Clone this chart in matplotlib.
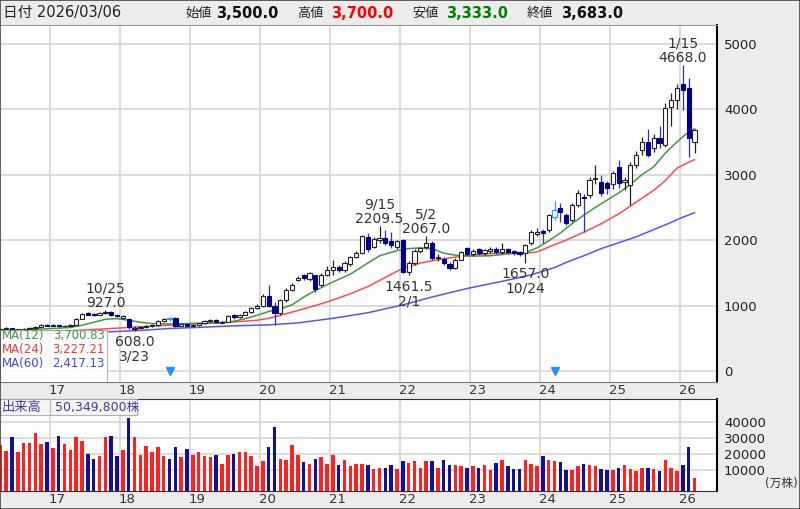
import numpy as np
import matplotlib.pyplot as plt
from matplotlib.patches import Rectangle

plt.rcParams['font.family'] = ['DejaVu Sans', 'Noto Sans CJK JP']

# monthly candles, month index 0 = 2016-01, first bar = 2016-04
first_month = 3
opens = [625, 640, 655, 625, 635, 645, 655, 675, 700,
         690, 700, 685, 695, 705, 800, 880, 875, 860, 885, 905, 860,
         815, 800, 640, 660, 670, 685, 700, 765, 810, 805, 690, 712,
         690, 705, 730, 760, 785, 740, 750, 850, 820, 860, 900, 960,
         990, 1150, 1000, 890, 1085, 1240, 1390, 1460, 1400, 1460, 1310, 1470,
         1550, 1590, 1540, 1630, 1740, 1800, 2050, 1900, 2005, 2030, 1990, 1890,
         2000, 1520, 1650, 1830, 1900, 1960, 1720, 1710, 1640, 1575, 1700, 1880,
         1790, 1860, 1800, 1840, 1870, 1815, 1860, 1835, 1815, 1800, 1950, 2100,
         2145, 2150, 2350, 2490, 2380, 2310, 2540, 2665, 2690, 2940, 2880, 2870,
         2850, 3120, 2880, 2840, 3150, 3380, 3500, 3400, 3560, 3450, 4030, 4140,
         4380, 4330, 3500]
closes = [640, 655, 628, 635, 645, 655, 675, 700, 690,
          700, 685, 695, 705, 795, 870, 862, 858, 885, 905, 850, 840,
          835, 665, 660, 670, 685, 700, 765, 800, 790, 695, 712, 690,
          705, 730, 765, 785, 745, 752, 840, 822, 860, 900, 960, 1000,
          1140, 1000, 880, 1085, 1240, 1320, 1420, 1420, 1490, 1250, 1470, 1550,
          1590, 1545, 1650, 1740, 1800, 2060, 1860, 2020, 2030, 1960, 1920, 1980,
          1520, 1650, 1840, 1880, 1960, 1730, 1740, 1650, 1575, 1700, 1820, 1790,
          1840, 1800, 1850, 1860, 1820, 1870, 1820, 1800, 1790, 1920, 2120, 2130,
          2110, 2380, 2460, 2430, 2260, 2540, 2720, 2640, 2920, 2955, 2720, 2800,
          3025, 2870, 2920, 3150, 3300, 3500, 3300, 3560, 3480, 4020, 4140, 4320,
          4300, 3560, 3683]
highs = [650, 665, 660, 645, 652, 665, 690, 712, 715,
         712, 708, 702, 715, 815, 885, 895, 890, 900, 927, 915, 875,
         860, 810, 690, 690, 700, 715, 780, 815, 830, 820, 725, 720,
         715, 740, 780, 800, 795, 765, 860, 870, 870, 915, 975, 1020,
         1170, 1310, 1050, 1100, 1270, 1340, 1450, 1480, 1520, 1470, 1490, 1600,
         1700, 1620, 1680, 1760, 1830, 2080, 2110, 2050, 2209.5, 2150, 2130, 2000,
         2020, 1680, 1860, 1900, 2067, 1985, 1780, 1740, 1660, 1720, 1840, 1900,
         1860, 1880, 1870, 1890, 1890, 1960, 1880, 1850, 1830, 1940, 2150, 2190,
         2170, 2400, 2600, 2560, 2420, 2560, 2760, 2700, 2960, 3150, 2990, 2900,
         3060, 3220, 2960, 3200, 3360, 3580, 3700, 3620, 3740, 4100, 4250, 4390,
         4668, 4480, 3700]
lows = [618, 632, 615, 620, 628, 638, 648, 668, 680,
        680, 678, 680, 690, 700, 790, 850, 845, 852, 875, 840, 825,
        800, 640, 608, 650, 660, 675, 690, 755, 770, 670, 680, 675,
        680, 695, 720, 745, 730, 730, 745, 800, 810, 850, 890, 950,
        980, 980, 700, 860, 1060, 1220, 1370, 1390, 1380, 1210, 1300, 1450,
        1470, 1520, 1520, 1610, 1720, 1780, 1820, 1880, 1950, 1930, 1880, 1870,
        1490, 1461.5, 1620, 1800, 1860, 1690, 1680, 1620, 1550, 1565, 1690, 1760,
        1760, 1770, 1770, 1800, 1780, 1790, 1790, 1770, 1750, 1657, 1930, 2070,
        1950, 2130, 2300, 2270, 2230, 2280, 2500, 2120, 2650, 2850, 2680, 2700,
        2780, 2800, 2760, 2540, 3100, 3300, 3270, 3350, 3400, 3420, 3750, 4000,
        3990, 3270, 3333]
# volume in 万株
volume = [25600, 21900, 30600, 21000, 26700, 26700, 32900, 26000, 27300,
          23500, 31500, 26000, 22500, 30600, 28300, 20200, 17100, 18700, 30600, 31500, 18700,
          22700, 42300, 30600, 19600, 25000, 21200, 24200, 18700, 17100, 24200, 17900, 23300,
          19600, 21000, 18700, 17900, 19400, 14000, 19600, 20200, 21000, 21000, 18700, 12300,
          15600, 24200, 36900, 17100, 16200, 25800, 19400, 14800, 14000, 17100, 17900, 14000,
          19600, 13100, 16200, 12300, 14000, 14000, 13100, 10800, 11500, 11500, 13100, 10800,
          15600, 14600, 15400, 11500, 15400, 15400, 11500, 16200, 13100, 13100, 12300, 11500,
          12300, 11500, 13100, 9800, 14600, 16200, 12300, 10600, 10600, 16200, 14000, 12300,
          18700, 16200, 15400, 14800, 9800, 9800, 12300, 14000, 13100, 12300, 10600, 9800,
          9800, 11500, 13300, 10600, 9200, 11500, 11500, 10600, 9200, 16200, 11500, 9200,
          13100, 24200, 5034.98]
split_months = [32, 98]

# moving averages (month index, value)
ma12_x = [3, 8, 12, 15, 17, 19, 21, 23, 25, 27, 29, 32, 35, 38, 41, 43, 45, 47, 49, 51, 53,
          55, 57, 60, 63, 66, 68, 71, 73, 75, 77, 79, 81, 84, 87, 90, 93, 95, 97, 99, 101,
          103, 105, 107, 109, 111, 113, 115, 117, 119, 120, 121, 122]
ma12_y = [625, 632, 650, 665, 700, 745, 790, 800, 775, 745, 725, 718, 725, 732, 738, 760, 800,
          850, 910, 950, 1010, 1130, 1230, 1360, 1480, 1650, 1760, 1840, 1870, 1880, 1870, 1800,
          1770, 1755, 1760, 1790, 1810, 1880, 1990, 2110, 2250, 2380, 2500, 2610, 2720, 2850,
          3000, 3120, 3330, 3500, 3580, 3650, 3700.83]
ma24_x = [3, 10, 16, 22, 26, 30, 34, 38, 43, 47, 49, 51, 54, 57, 60, 63, 66, 69, 72, 75, 78,
          81, 84, 88, 93, 95, 98, 100, 103, 106, 109, 112, 115, 117, 119, 121, 122]
ma24_y = [590, 605, 620, 650, 670, 690, 710, 725, 750, 775, 805, 850, 925, 1000, 1085, 1180,
          1290, 1430, 1570, 1650, 1700, 1740, 1770, 1800, 1800, 1820, 1930, 2000, 2120, 2250,
          2400, 2580, 2760, 2910, 3100, 3190, 3227.21]
ma60_x = [3, 10, 16, 22, 28, 32, 38, 43, 49, 54, 60, 66, 72, 77, 83, 89, 94, 98, 100, 103,
          106, 109, 112, 115, 118, 120, 122]
ma60_y = [560, 572, 585, 600, 625, 650, 670, 690, 705, 735, 805, 890, 1010, 1130, 1260, 1370,
          1470, 1580, 1660, 1760, 1870, 1960, 2050, 2160, 2270, 2350, 2417.13]

years = ['17', '18', '19', '20', '21', '22', '23', '24', '25', '26']

idx = np.arange(first_month, first_month + len(closes))
o = np.array(opens, float)
c = np.array(closes, float)
h = np.array(highs, float)
l = np.array(lows, float)
vol = np.array(volume, float)
split = np.isin(idx, split_months)
up = (c >= o) & ~split
dn = (c < o) & ~split

W, H = 800, 509
fig = plt.figure(figsize=(8, 5.09), dpi=100, facecolor='#ececec')
ax = fig.add_axes([0, 1 - 382 / H, 717 / W, (382 - 25) / H])
av = fig.add_axes([0, 1 - 491 / H, 717 / W, (491 - 399) / H])

boundaries = 11.5 + 12 * np.arange(len(years))
xlim = (2.93, 125.85)
grid_c = '#d9d9d9'

# ---- price panel
ax.set_facecolor('white')
for b in boundaries:
    ax.axvline(b, color=grid_c, lw=1.3, zorder=0)
for yv in range(0, 5001, 1000):
    ax.axhline(yv, color=grid_c, lw=1.3, zorder=0)

ax.plot(ma60_x, ma60_y, color='#5555f5', lw=1.1, zorder=2)
ax.plot(ma24_x, ma24_y, color='#ff4d4d', lw=1.1, zorder=2)
ax.plot(ma12_x, ma12_y, color='#3f9a3f', lw=1.1, zorder=2)

bw = 0.72
ax.vlines(idx[up], l[up], h[up], color='#222222', lw=0.9, zorder=3)
ax.bar(idx[up], np.maximum(c[up] - o[up], 6), bottom=o[up], width=bw,
       facecolor='white', edgecolor='#222222', lw=0.8, zorder=4)
ax.vlines(idx[dn], l[dn], h[dn], color='#2a2ad8', lw=0.9, zorder=3)
ax.bar(idx[dn], np.maximum(o[dn] - c[dn], 6), bottom=c[dn], width=bw,
       facecolor='#00008b', edgecolor='#00008b', lw=0.8, zorder=4)
ax.vlines(idx[split], l[split], h[split], color='#3399ff', lw=0.9, zorder=3)
ax.bar(idx[split], np.abs(c[split] - o[split]), bottom=np.minimum(o[split], c[split]),
       width=bw, facecolor='white', edgecolor='#3399ff', lw=0.9, zorder=4)

ax.plot(split_months, [0.03] * len(split_months), 'v', color='#1e90ff', ms=6,
        transform=ax.get_xaxis_transform(), zorder=5)

ann = dict(fontsize=10, color='#333333', ha='center', linespacing=1.05,
           textcoords='offset points', zorder=6)
def mark_high(m, label):
    ax.annotate(f'{label}\n{h[m - first_month]:.1f}', xy=(m, h[m - first_month]),
                xytext=(0, 0), va='bottom', **ann)
def mark_low(m, label):
    ax.annotate(f'{l[m - first_month]:.1f}\n{label}', xy=(m, l[m - first_month]),
                xytext=(0, -3), va='top', **ann)
mark_high(21, '10/25')
mark_high(68, '9/15')
mark_high(76, '5/2')
mark_high(120, '1/15')
mark_low(26, '3/23')
mark_low(73, '2/1')
mark_low(93, '10/24')

ax.set_xlim(*xlim)
ax.set_ylim(-168, 5286)
ax.set_xticks(boundaries + 1.25)
ax.set_xticklabels(years)
ax.yaxis.tick_right()
ax.set_yticks(range(0, 5001, 1000))
ax.tick_params(axis='x', length=0, pad=1.5, labelsize=9.5, colors='#333333')
ax.tick_params(axis='y', length=0, pad=5, labelsize=9.5, colors='#222222')
ax.spines['left'].set_visible(False)
ax.spines['top'].set_color('#999999')
ax.spines['bottom'].set_color('#777777')
ax.spines['right'].set_color('black')
ax.spines['right'].set_linewidth(1.5)

# MA legend box
ax.add_patch(Rectangle((0, -0.003), 0.149, 0.149, transform=ax.transAxes,
                       facecolor='white', alpha=0.88, edgecolor='#aaaaaa', lw=0.8, zorder=7))
ma_rows = [('MA(12)', ma12_y[-1], '#3f9a3f'), ('MA(24)', ma24_y[-1], '#ff3333'),
           ('MA(60)', ma60_y[-1], '#4444ee')]
for k, (name, val, col) in enumerate(ma_rows):
    yy = (382 - 335 - 14 * k) / 357
    ax.text(0.002, yy, name, transform=ax.transAxes, fontsize=8.5, color=col,
            va='center', ha='left', zorder=8)
    ax.text(0.146, yy, f'{val:,.2f}', transform=ax.transAxes, fontsize=8.5, color=col,
            va='center', ha='right', zorder=8)

# ---- volume panel
av.set_facecolor('white')
for b in boundaries:
    av.axvline(b, color=grid_c, lw=1.3, zorder=0)
for yv in range(10000, 40001, 10000):
    av.axhline(yv, color=grid_c, lw=1.3, zorder=0)
vbase = -3125
vcol = np.where(c >= o, '#ff2020', '#10109a')
av.bar(idx, vol - vbase, bottom=vbase, width=0.6, color=vcol, zorder=2)
av.set_xlim(*xlim)
av.set_ylim(vbase, 54375)
av.set_xticks(boundaries + 1.25)
av.set_xticklabels(years)
av.yaxis.tick_right()
av.set_yticks(range(10000, 40001, 10000))
av.tick_params(axis='x', length=0, pad=1.5, labelsize=9.5, colors='#333333')
av.tick_params(axis='y', length=0, pad=5, labelsize=9.5, colors='#222222')
av.spines['left'].set_visible(False)
for s in ('top', 'bottom'):
    av.spines[s].set_color('#333333')
av.spines['right'].set_color('black')
av.spines['right'].set_linewidth(1.5)

av.add_patch(Rectangle((0, 0.826), 0.191, 0.174, transform=av.transAxes,
                       facecolor='#f4f4f4', alpha=0.9, edgecolor='#aaaaaa', lw=0.8, zorder=5))
av.plot([0.0697, 0.0697], [0.826, 1.0], transform=av.transAxes, color='#bbbbbb', lw=0.8, zorder=6)
av.text(0.002, 0.913, '出来高', transform=av.transAxes, fontsize=9.5, color='#3c3ca0',
        va='center', ha='left', zorder=6)
av.text(0.077, 0.913, f'{round(volume[-1] * 10000):,}株', transform=av.transAxes, fontsize=9,
        color='#3c3ca0', va='center', ha='left', zorder=6)
fig.text(765 / W, 1 - 483 / H, '(万株)', fontsize=8.5, color='#333333', va='center')

# ---- header
hy = 1 - 13 / H
fig.text(3 / W, hy, '日付 2026/03/06', fontsize=10.5, color='#222222', va='center')
head = [('始値', 185, 216, 0, '#111111'), ('高値', 297, 331, 1, '#ff0000'),
        ('安値', 412, 446, 2, '#008000'), ('終値', 527, 561, 3, '#111111')]
ohlc_last = [opens[-1], highs[-1], lows[-1], closes[-1]]
for name, xl, xv, k, col in head:
    fig.text(xl / W, hy, name, fontsize=9.5, color='#222222', va='center')
    fig.text(xv / W, hy, f'{ohlc_last[k]:,.1f}', fontsize=10.5, color=col,
             fontweight='bold', va='center')
fig.patches.append(Rectangle((0, 0), 1, 1, transform=fig.transFigure, fill=False,
                             edgecolor='#444444', lw=1.2))

fig.savefig('out.png', dpi=100, facecolor=fig.get_facecolor())
